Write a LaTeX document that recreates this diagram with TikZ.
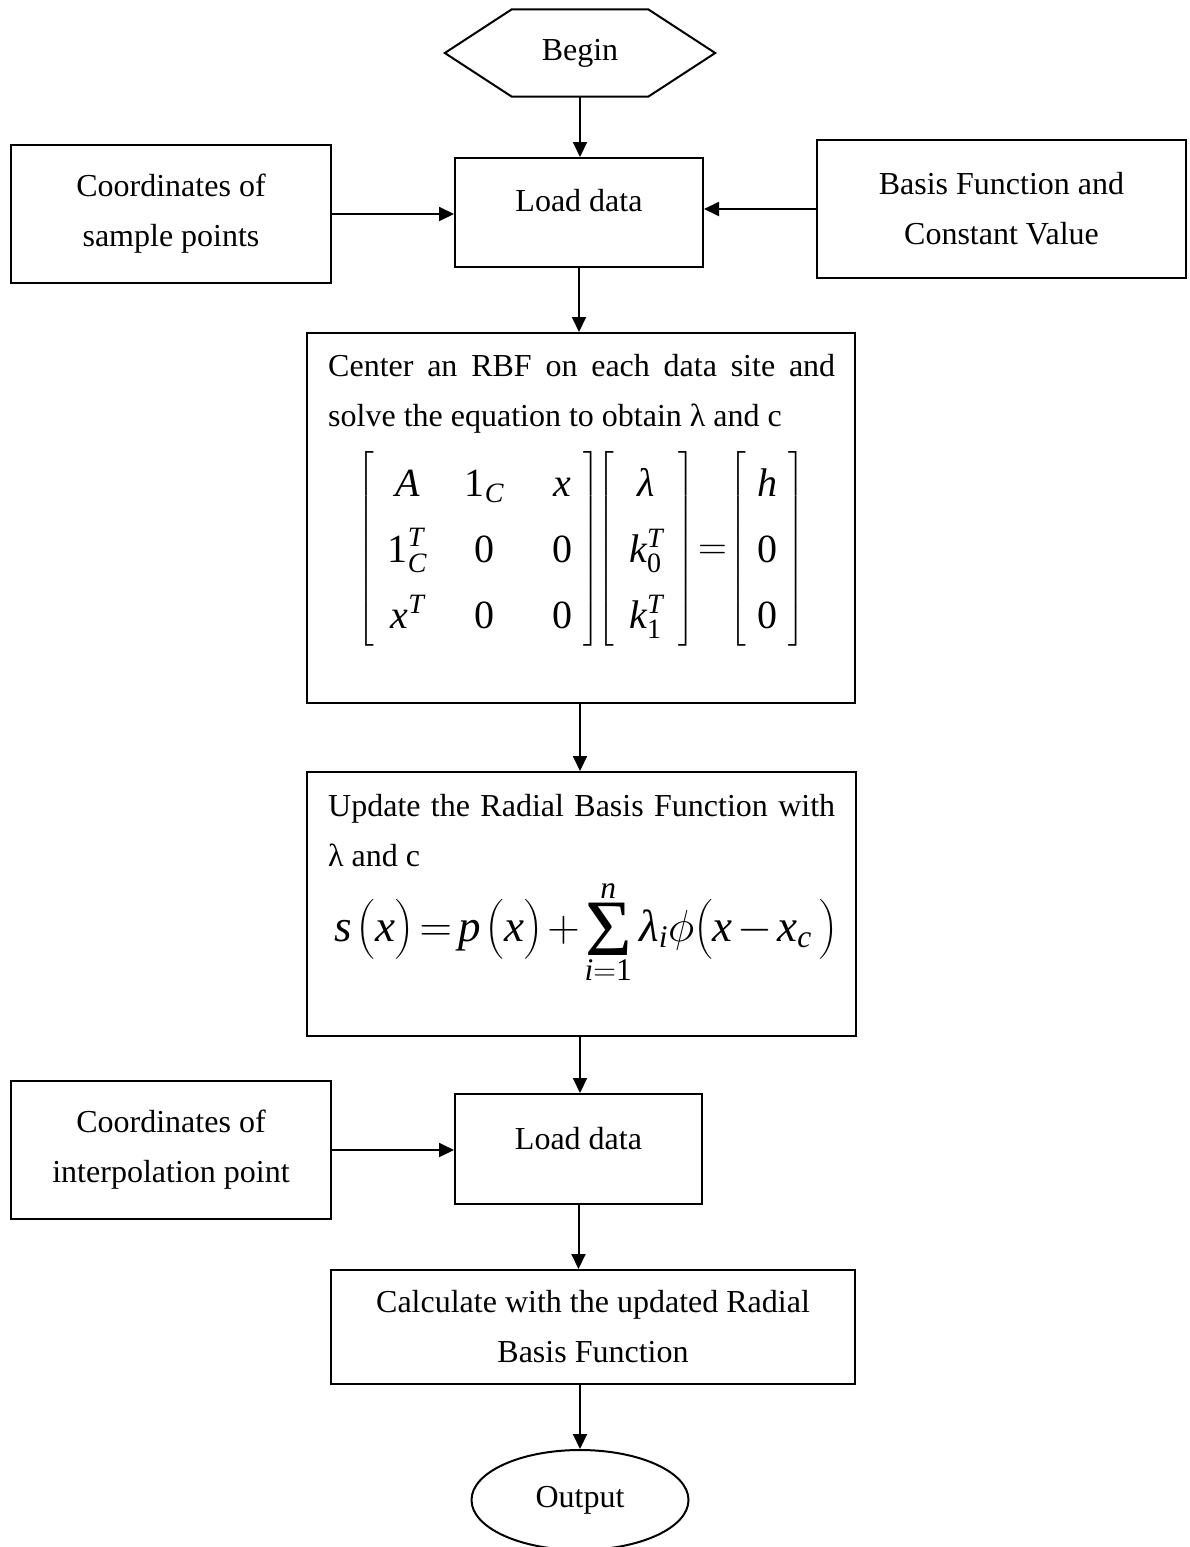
\RequirePackage{fix-cm}
\documentclass[tikz,border=0pt]{standalone}
\usepackage{amsmath}
\usepackage{array}
\usepackage{fontspec}
\setmainfont{Liberation Serif}
\usetikzlibrary{shapes.geometric,arrows.meta,calc}
\setlength{\parindent}{0pt}
% italic letters and upright digits in formulas, taken from the text face
\newcommand{\iv}[1]{\mathit{#1}}
\newcommand{\lam}{\text{\itshape λ}}
\newcommand{\dg}[1]{\text{#1}}
% summation sign drawn from the text face
\newcommand{\bigsum}{\mathop{\vcenter{\hbox{\fontsize{80}{80}\selectfont Σ}}}\limits}

\begin{document}
\begin{tikzpicture}[x=1pt,y=-1pt,
  every node/.style={font=\fontsize{32}{50}\selectfont},
  box/.style={draw, line width=2pt, inner sep=0pt},
  arr/.style={line width=2pt, -{Triangle[length=15pt,width=14pt]}},
  txt/.style={inner sep=0pt},
  eqfont/.style={inner sep=0pt, font=\fontsize{40}{48}\selectfont},
  sumfont/.style={inner sep=0pt, font=\fontsize{45}{54}\selectfont}]
\useasboundingbox (0,0) rectangle (1189,1547);

% start terminal (hexagon)
\node[minimum width=270pt, minimum height=87pt, inner sep=0pt] (begin) at (580,53) {Begin};
\draw[line width=2pt, line join=miter]
  (begin.west) -- ($(begin.north west)+(67,0)$) -- ($(begin.north east)+(-67,0)$)
  -- (begin.east) -- ($(begin.south east)+(-67,0)$) -- ($(begin.south west)+(67,0)$) -- cycle;

% first loading step with its two inputs
\node[box, minimum width=248pt, minimum height=109pt] (load1) at (579,212.5) {};
\node[txt] (load1-t) at (579,201) {Load data};
\node[box, minimum width=320pt, minimum height=138pt, align=center] (samp) at (171,214)
  {Coordinates of\\sample points};
\node[box, minimum width=369pt, minimum height=138pt, align=center] (basis) at (1001.5,209)
  {Basis Function and\\Constant Value};

% solving the RBF system
\node[box, minimum width=548pt, minimum height=370pt] (solve) at (581,518) {};
\node[txt, anchor=north west, text width=507pt, align=justify] (solve-t) at (328,354)
  {Center an RBF on each data site and\linebreak solve the equation to obtain λ and c};
\node[eqfont] (solve-eq) at (581.5,549)
  {$\renewcommand{\arraystretch}{1.375}%
   \left[\begin{array}{@{\hspace{13pt}}w{c}{40pt}@{\hspace{37pt}}w{c}{40pt}@{\hspace{47pt}}w{c}{22pt}@{\hspace{10pt}}}
     \iv{A} & \dg{1}_{\iv{C}} & \iv{x}\\
     \dg{1}_{\iv{C}}^{\iv{T}} & \dg{0} & \dg{0}\\
     \iv{x}^{\iv{T}} & \dg{0} & \dg{0}\end{array}\right]\hspace{-9pt}%
   \left[\begin{array}{@{\hspace{12pt}}w{c}{40pt}@{\hspace{12pt}}}
     \lam\\ \iv{k}_{\dg{0}}^{\iv{T}}\\ \iv{k}_{\dg{1}}^{\iv{T}}\end{array}\right]\hspace{-8pt}=\hspace{-8pt}%
   \left[\begin{array}{@{\hspace{10pt}}w{c}{22pt}@{\hspace{10pt}}}
     \iv{h}\\ \dg{0}\\ \dg{0}\end{array}\right]$};

% updating the interpolant
\node[box, minimum width=549pt, minimum height=264pt] (update) at (581.5,904) {};
\node[txt, anchor=north west, text width=507pt, align=justify] (update-t) at (328,794)
  {Update the Radial Basis Function with\linebreak λ and c};
\node[sumfont, anchor=base] (update-eq) at (586,941)
  {$\thickmuskip=2.5mu\medmuskip=2mu
   \iv{s}\mkern2mu\bigl(\iv{x}\bigr)=\iv{p}\mkern2mu\bigl(\iv{x}\bigr)+\bigsum_{\iv{i}=\dg{1}}^{\iv{n}}
   \lam_{\iv{i}}\phi\bigl(\iv{x}-\iv{x}_{\iv{c}}\mkern3mu\bigr)$};

% second loading step and evaluation
\node[box, minimum width=247pt, minimum height=110pt] (load2) at (578.5,1149) {};
\node[txt] (load2-t) at (578.5,1139) {Load data};
\node[box, minimum width=320pt, minimum height=138pt, align=center] (interp) at (171,1150)
  {Coordinates of\\interpolation point};
\node[box, minimum width=524pt, minimum height=114pt, align=center] (calc) at (593,1327)
  {Calculate with the updated Radial\\Basis Function};
\node[draw, ellipse, line width=2pt, minimum width=217pt, minimum height=100pt, inner sep=0pt]
  (out) at (580,1500) {Output};

% connectors
\draw[arr] (begin.south) -- (begin.south |- load1.north);
\draw[arr] (samp.east) -- (samp.east -| load1.west);
\draw[arr] (basis.west) -- (basis.west -| load1.east);
\draw[arr] (load1.south) -- (load1.south |- solve.north);
\draw[arr] (solve.south -| begin.south) -- (begin.south |- update.north);
\draw[arr] (update.south -| begin.south) -- (begin.south |- load2.north);
\draw[arr] (interp.east) -- (interp.east -| load2.west);
\draw[arr] (load2.south) -- (load2.south |- calc.north);
\draw[arr] (calc.south -| out.north) -- (out.north);
\end{tikzpicture}
\end{document}
